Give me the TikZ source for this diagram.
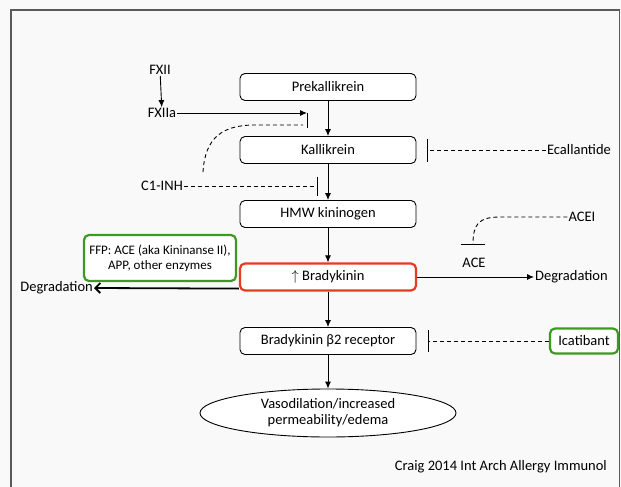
\documentclass[tikz,border=0pt]{standalone}
\usepackage{fontspec}
\setmainfont{Carlito}
\usetikzlibrary{positioning,arrows.meta,shapes.geometric,calc}
\definecolor{pagegray}{HTML}{F9F9F9}
\definecolor{framegray}{HTML}{5A5A5A}
\definecolor{hitred}{HTML}{E63B1F}
\definecolor{drugreen}{HTML}{3C9A23}

\begin{document}
\begin{tikzpicture}[
    x=1pt, y=-1pt,
    font=\fontsize{14.5}{16}\selectfont,
    stepbox/.style={draw, rounded corners=5pt, fill=white, minimum width=176pt, minimum height=27pt, line width=0.9pt},
    hitbox/.style={stepbox, draw=hitred, line width=2.2pt},
    drugbox/.style={draw=drugreen, line width=2.2pt, rounded corners=5pt, fill=white, align=center},
    lbl/.style={inner sep=1pt},
    flow/.style={-{Latex[length=7pt,width=6pt]}, line width=0.9pt},
    thickflow/.style={-{Straight Barb[length=5pt,width=10pt]}, line width=1.8pt},
    block/.style={line width=0.9pt, dash pattern=on 4pt off 3pt},
]
\useasboundingbox (0,0) rectangle (621,487);
\fill[pagegray] (0,0) rectangle (621,487);
\draw[framegray, line width=1.6pt] (11,487) -- (11,10) -- (619.5,10) -- (619.5,487);

% cascade
\node[stepbox] (prek) at (328,87) {Prekallikrein};
\node[stepbox] (kall) at (328,150) {Kallikrein};
\node[stepbox] (hmw) at (328,214) {HMW kininogen};
\node[hitbox] (brady) at (328,277) {$\uparrow$ Bradykinin};
\node[stepbox] (bkr) at (328,341) {Bradykinin β2 receptor};
\node[ellipse, draw, line width=0.9pt, fill=white, minimum width=256pt, minimum height=48pt, align=center, inner sep=0pt] (vaso) at (328,413) {Vasodilation/increased\\permeability/edema};

\draw[flow] (prek) -- (kall);
\draw[flow] (kall) -- (hmw);
\draw[flow] (hmw) -- (brady);
\draw[flow] (brady) -- (bkr);
\draw[flow] (bkr) -- (vaso);

% contact activation
\node[lbl] (fxii) at (160,70) {FXII};
\node[lbl] (fxiia) at (162,113) {FXIIa};
\coordinate (fxin) at (307,113);
\draw[flow] (fxii) -- (fxiia);
\draw[flow] (fxiia.east) -- (fxin);
\draw[line width=0.9pt] (fxin) -- (307,128);

% C1 inhibitor
\node[lbl] (cinh) at (162,186) {C1-INH};
\draw[block] (203,172) .. controls (205,138) and (222,125) .. (255,125) -- (303,125);
\draw[block, -{Bar[width=19pt]}] (cinh.east) -- (318,186);

% drugs
\node[lbl] (ecal) at (579,150) {Ecallantide};
\draw[block, -{Bar[width=23pt]}] (ecal.west) -- (427,150);
\node[drugbox, minimum width=68pt, minimum height=25pt, inner sep=1pt] (icat) at (584,341) {Icatibant};
\draw[block, -{Bar[width=22pt]}] (icat.west) -- (428,341);
\node[lbl] (acei) at (582,217) {ACEI};
\node[lbl] (ace) at (474,263) {ACE};
\draw[block, -{Bar[width=24pt]}] (acei.west) -- (500,217) .. controls (478,217) and (473,225) .. (473,245);

% degradation
\node[lbl, anchor=west] (degR) at (534,277) {Degradation};
\draw[flow] (brady.east) -- (degR.west);
\node[drugbox, minimum width=152pt, minimum height=46pt, inner sep=2pt, font=\fontsize{13}{15}\selectfont] (ffp) at (160,258) {FFP: ACE (aka Kininanse II),\\APP, other enzymes};
\node[lbl, anchor=east] (degL) at (94,288) {Degradation};
\draw[thickflow] ($(brady.south west)+(0,-3)$) -- (degL.east);

\node[lbl, anchor=east] (cite) at (608,467) {Craig 2014 Int Arch Allergy Immunol};
\end{tikzpicture}
\end{document}
